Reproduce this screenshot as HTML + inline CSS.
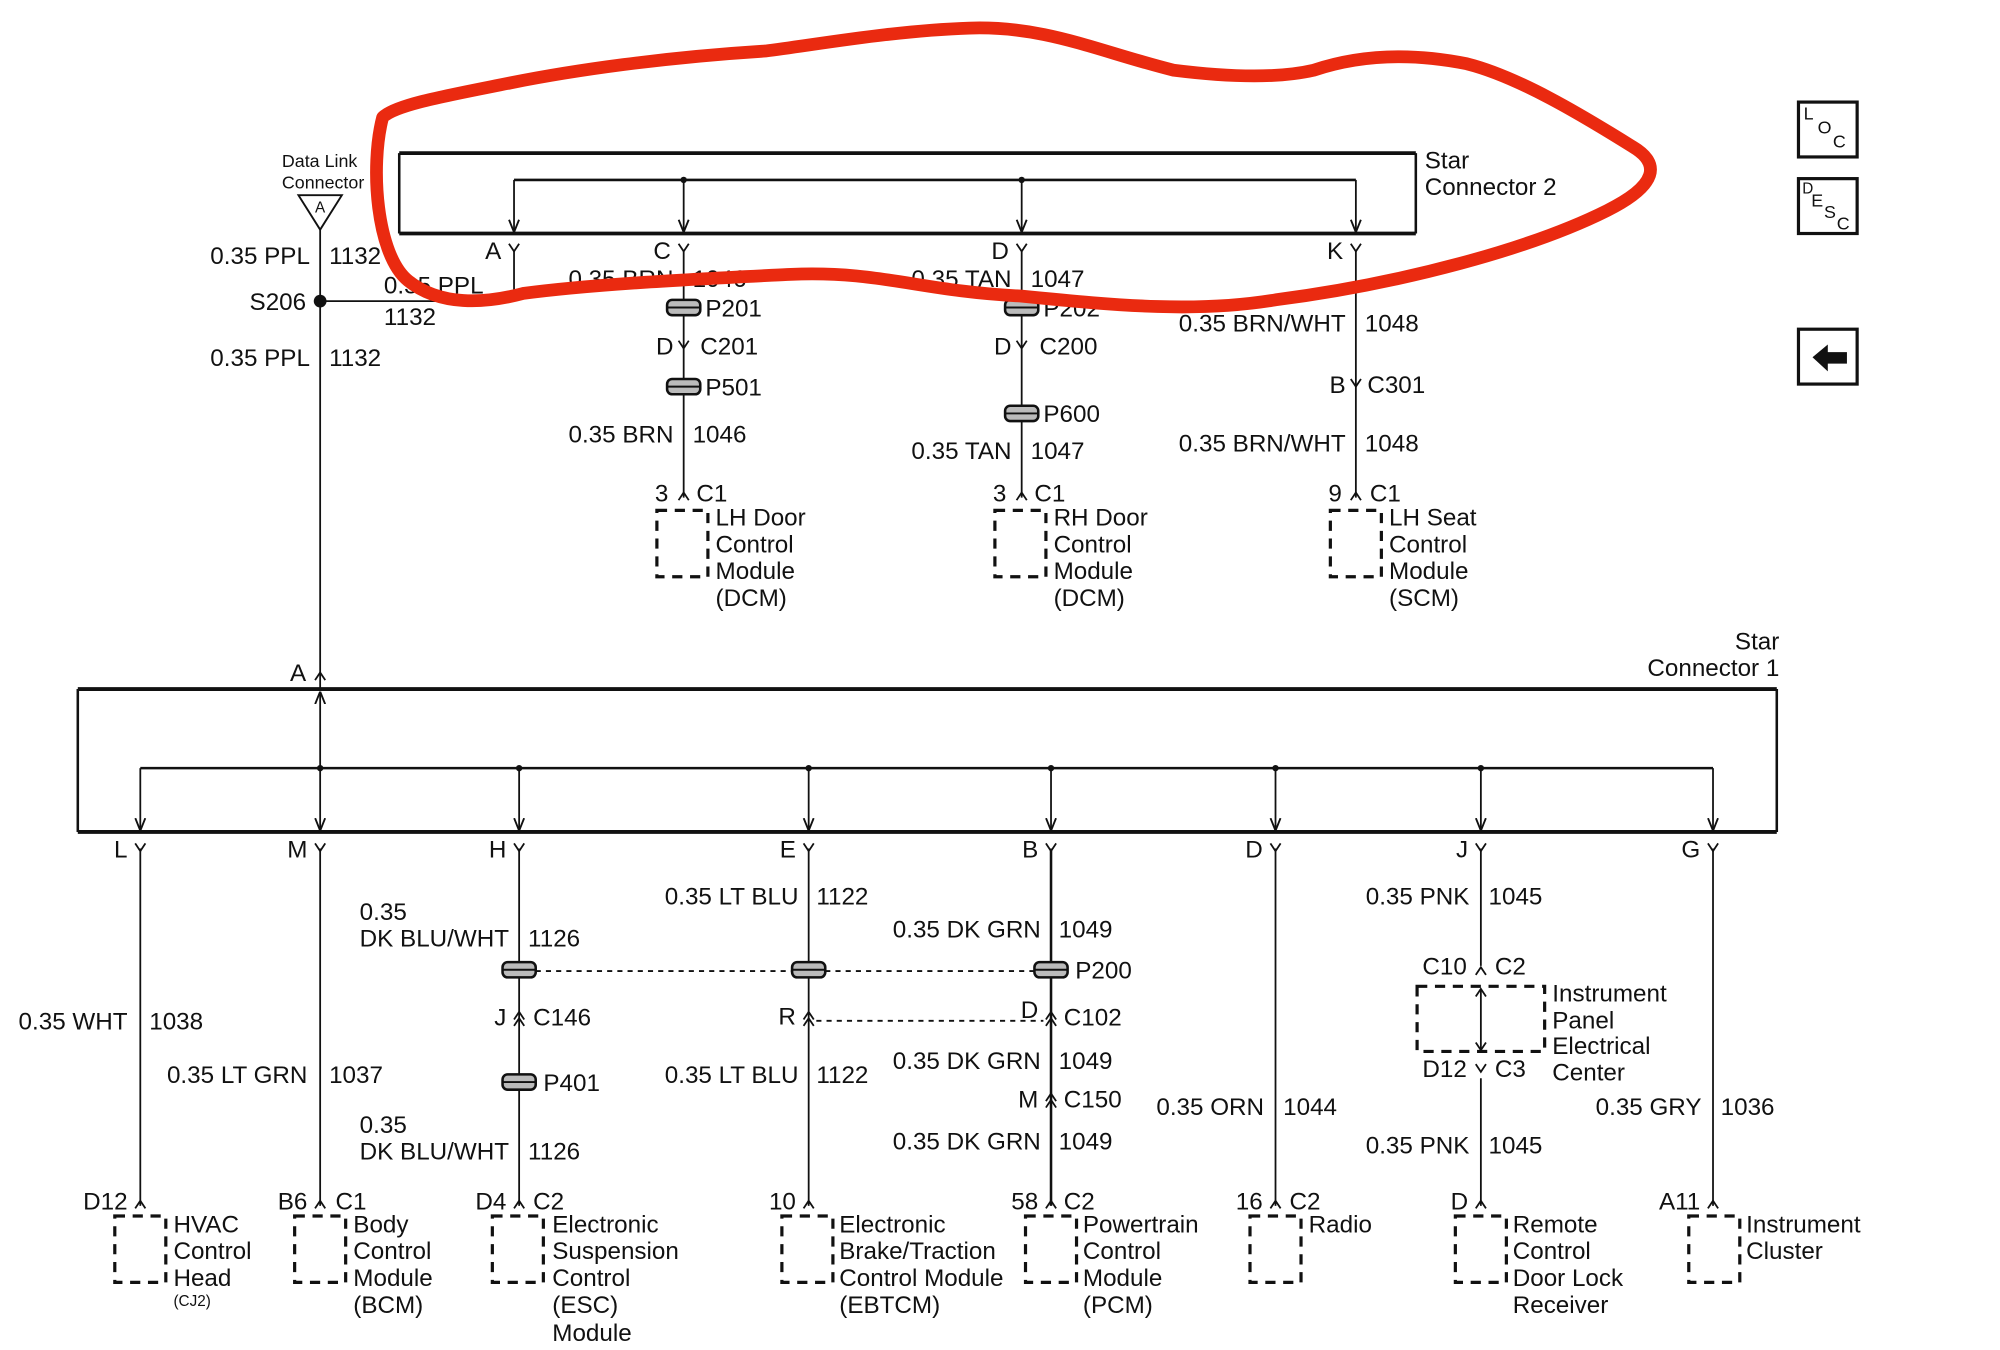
<!DOCTYPE html>
<html><head><meta charset="utf-8"><style>
html,body{margin:0;padding:0;background:#fff;}
svg{display:block;}
text{font-family:"Liberation Sans",sans-serif;font-size:19px;fill:#111;dominant-baseline:central;}
.s{font-size:14px;}
.xs{font-size:12px;}
.e{text-anchor:end;}
</style></head><body>
<svg width="2000" height="1350" viewBox="0 0 1568 1058" preserveAspectRatio="none" xmlns="http://www.w3.org/2000/svg">
<defs>
<marker id="ar" viewBox="0 0 10 10" refX="10" refY="5" markerWidth="7" markerHeight="7" orient="auto"><path d="M0,1 L10,5 L0,9" fill="none" stroke="#111" stroke-width="1.5"/></marker>
<g id="Y"><path d="M-4,-6 L0,0 L4,-6" fill="none" stroke="#111" stroke-width="1.4"/></g>
<g id="U"><path d="M-4,5 L0,-1 L4,5" fill="none" stroke="#111" stroke-width="1.4"/></g>
<g id="UU"><path d="M-4,2 L0,-4 L4,2 M-4,7 L0,1 L4,7" fill="none" stroke="#111" stroke-width="1.4"/></g>
<g id="P"><rect x="-13" y="-6" width="26" height="12" rx="4" fill="#bbb" stroke="#111" stroke-width="2"/><line x1="-13" y1="0" x2="13" y2="0" stroke="#111" stroke-width="1.5"/></g>
<g id="B"><rect x="0" y="0" width="40" height="52" fill="none" stroke="#111" stroke-width="2.5" stroke-dasharray="8,6"/></g>
</defs>
<g stroke="#111" fill="none">
<line x1="313" y1="120" x2="1110" y2="120" stroke-width="3"/>
<line x1="313" y1="183" x2="1110" y2="183" stroke-width="3"/>
<line x1="313" y1="120" x2="313" y2="183" stroke-width="2"/>
<line x1="1110" y1="120" x2="1110" y2="183" stroke-width="2"/>
<line x1="403" y1="141" x2="1063" y2="141" stroke-width="2"/>
<line x1="403" y1="141" x2="403" y2="182" stroke-width="1.4" marker-end="url(#ar)"/>
<line x1="536" y1="141" x2="536" y2="182" stroke-width="1.4" marker-end="url(#ar)"/>
<line x1="801" y1="141" x2="801" y2="182" stroke-width="1.4" marker-end="url(#ar)"/>
<line x1="1063" y1="141" x2="1063" y2="182" stroke-width="1.4" marker-end="url(#ar)"/>
<line x1="403" y1="196" x2="403" y2="236" stroke-width="1.4"/>
<line x1="251" y1="180" x2="251" y2="540" stroke-width="1.4"/>
<line x1="251" y1="236" x2="403" y2="236" stroke-width="1.4"/>
<line x1="536" y1="196" x2="536" y2="390" stroke-width="1.4"/>
<line x1="801" y1="196" x2="801" y2="390" stroke-width="1.4"/>
<line x1="1063" y1="196" x2="1063" y2="390" stroke-width="1.4"/>
<path d="M234,153 L268,153 L251,180 Z" stroke-width="1.5"/>
<line x1="61" y1="540" x2="1393" y2="540" stroke-width="3"/>
<line x1="61" y1="652" x2="1393" y2="652" stroke-width="3"/>
<line x1="61" y1="540" x2="61" y2="652" stroke-width="2"/>
<line x1="1393" y1="540" x2="1393" y2="652" stroke-width="2"/>
<line x1="251" y1="602" x2="251" y2="542" stroke-width="1.4" marker-end="url(#ar)"/>
<line x1="110" y1="602" x2="1343" y2="602" stroke-width="2"/>
<line x1="110" y1="602" x2="110" y2="651" stroke-width="1.4" marker-end="url(#ar)"/>
<line x1="251" y1="602" x2="251" y2="651" stroke-width="1.4" marker-end="url(#ar)"/>
<line x1="407" y1="602" x2="407" y2="651" stroke-width="1.4" marker-end="url(#ar)"/>
<line x1="634" y1="602" x2="634" y2="651" stroke-width="1.4" marker-end="url(#ar)"/>
<line x1="824" y1="602" x2="824" y2="651" stroke-width="1.4" marker-end="url(#ar)"/>
<line x1="1000" y1="602" x2="1000" y2="651" stroke-width="1.4" marker-end="url(#ar)"/>
<line x1="1161" y1="602" x2="1161" y2="651" stroke-width="1.4" marker-end="url(#ar)"/>
<line x1="1343" y1="602" x2="1343" y2="651" stroke-width="1.4" marker-end="url(#ar)"/>
<line x1="110" y1="665" x2="110" y2="945" stroke-width="1.4"/>
<line x1="251" y1="665" x2="251" y2="945" stroke-width="1.4"/>
<line x1="407" y1="665" x2="407" y2="945" stroke-width="1.4"/>
<line x1="634" y1="665" x2="634" y2="945" stroke-width="1.4"/>
<line x1="824" y1="665" x2="824" y2="945" stroke-width="2"/>
<line x1="1000" y1="665" x2="1000" y2="945" stroke-width="1.4"/>
<line x1="1161" y1="665" x2="1161" y2="757" stroke-width="1.4"/>
<line x1="1161" y1="845" x2="1161" y2="945" stroke-width="1.4"/>
<line x1="1161" y1="776" x2="1161" y2="822" stroke-width="1.4"/>
<path d="M1157,781 L1161,775 L1165,781 M1157,817 L1161,823 L1165,817" stroke-width="1.4"/>
<line x1="1343" y1="665" x2="1343" y2="945" stroke-width="1.4"/>
<line x1="420" y1="761" x2="621" y2="761" stroke-width="1.5" stroke-dasharray="4,4"/>
<line x1="647" y1="761" x2="811" y2="761" stroke-width="1.5" stroke-dasharray="4,4"/>
<line x1="640" y1="800" x2="818" y2="800" stroke-width="1.5" stroke-dasharray="4,4"/>
<rect x="1111" y="773" width="100" height="51" stroke-width="2.5" stroke-dasharray="8,6"/>
<rect x="1410" y="80" width="46" height="43" stroke-width="2.5"/>
<rect x="1410" y="140" width="46" height="43" stroke-width="2.5"/>
<rect x="1410" y="258" width="46" height="43" stroke-width="2.5"/>
</g>
<path d="M1421,280 L1433,270 L1433,276 L1448,276 L1448,285 L1433,285 L1433,291 Z" fill="#111"/>
<text x="1414" y="89" class="s">L</text><text x="1425" y="100" class="s">O</text><text x="1437" y="111" class="s">C</text>
<text x="1413" y="148" class="xs">D</text><text x="1420" y="157" class="s">E</text><text x="1430" y="166" class="s">S</text><text x="1440" y="175" class="s">C</text>
<g fill="#111">
<circle cx="251" cy="236" r="5"/>
<circle cx="536" cy="141" r="2.5"/><circle cx="801" cy="141" r="2.5"/>
<circle cx="251" cy="602" r="2.5"/><circle cx="407" cy="602" r="2.5"/><circle cx="634" cy="602" r="2.5"/><circle cx="824" cy="602" r="2.5"/><circle cx="1000" cy="602" r="2.5"/><circle cx="1161" cy="602" r="2.5"/>
</g>
<use href="#Y" x="403" y="197"/><use href="#Y" x="536" y="197"/><use href="#Y" x="801" y="197"/><use href="#Y" x="1063" y="197"/>
<use href="#Y" x="536" y="273"/><use href="#Y" x="801" y="273"/><use href="#Y" x="1063" y="303"/>
<use href="#U" x="536" y="387"/><use href="#U" x="801" y="387"/><use href="#U" x="1063" y="387"/>
<use href="#U" x="251" y="528"/>
<use href="#Y" x="110" y="667"/><use href="#Y" x="251" y="667"/><use href="#Y" x="407" y="667"/><use href="#Y" x="634" y="667"/><use href="#Y" x="824" y="667"/><use href="#Y" x="1000" y="667"/><use href="#Y" x="1161" y="667"/><use href="#Y" x="1343" y="667"/>
<use href="#UU" x="407" y="797"/><use href="#UU" x="634" y="797"/><use href="#UU" x="824" y="797"/><use href="#UU" x="824" y="861"/>
<use href="#U" x="1161" y="759"/><use href="#Y" x="1161" y="840"/>
<use href="#U" x="110" y="942"/><use href="#U" x="251" y="942"/><use href="#U" x="407" y="942"/><use href="#U" x="634" y="942"/><use href="#U" x="824" y="942"/><use href="#U" x="1000" y="942"/><use href="#U" x="1161" y="942"/><use href="#U" x="1343" y="942"/>
<use href="#P" x="536" y="241"/><use href="#P" x="536" y="303"/><use href="#P" x="801" y="241"/><use href="#P" x="801" y="324"/>
<use href="#P" x="407" y="760"/><use href="#P" x="634" y="760"/><use href="#P" x="824" y="760"/><use href="#P" x="407" y="848"/>
<use href="#B" x="515" y="400"/><use href="#B" x="780" y="400"/><use href="#B" x="1043" y="400"/>
<use href="#B" x="90" y="953"/><use href="#B" x="231" y="953"/><use href="#B" x="386" y="953"/><use href="#B" x="613" y="953"/><use href="#B" x="804" y="953"/><use href="#B" x="980" y="953"/><use href="#B" x="1141" y="953"/><use href="#B" x="1324" y="953"/>
<text x="221" y="126" class="s">Data Link</text><text x="221" y="143" class="s">Connector</text>
<text x="251" y="163" class="xs" text-anchor="middle">A</text>
<text x="1117" y="126">Star</text><text x="1117" y="147">Connector  2</text>
<text x="393" y="197" class="e">A</text><text x="526" y="197" class="e">C</text><text x="791" y="197" class="e">D</text><text x="1053" y="197" class="e">K</text>
<text x="243" y="201" class="e">0.35 PPL</text><text x="258" y="201">1132</text>
<text x="240" y="237" class="e">S206</text>
<text x="301" y="224">0.35 PPL</text><text x="301" y="249">1132</text>
<text x="243" y="281" class="e">0.35 PPL</text><text x="258" y="281">1132</text>
<text x="528" y="219" class="e">0.35 BRN</text><text x="543" y="219">1046</text>
<text x="793" y="219" class="e">0.35 TAN</text><text x="808" y="219">1047</text>
<text x="553" y="242">P201</text><text x="818" y="242">P202</text>
<text x="528" y="272" class="e">D</text><text x="549" y="272">C201</text>
<text x="793" y="272" class="e">D</text><text x="815" y="272">C200</text>
<text x="553" y="304">P501</text><text x="818" y="325">P600</text>
<text x="528" y="341" class="e">0.35 BRN</text><text x="543" y="341">1046</text>
<text x="793" y="354" class="e">0.35 TAN</text><text x="808" y="354">1047</text>
<text x="1055" y="254" class="e">0.35 BRN/WHT</text><text x="1070" y="254">1048</text>
<text x="1055" y="302" class="e">B</text><text x="1072" y="302">C301</text>
<text x="1055" y="348" class="e">0.35 BRN/WHT</text><text x="1070" y="348">1048</text>
<text x="524" y="387" class="e">3</text><text x="546" y="387">C1</text>
<text x="789" y="387" class="e">3</text><text x="811" y="387">C1</text>
<text x="1052" y="387" class="e">9</text><text x="1074" y="387">C1</text>
<text x="561" y="406">LH Door</text><text x="561" y="427">Control</text><text x="561" y="448">Module</text><text x="561" y="469">(DCM)</text>
<text x="826" y="406">RH Door</text><text x="826" y="427">Control</text><text x="826" y="448">Module</text><text x="826" y="469">(DCM)</text>
<text x="1089" y="406">LH Seat</text><text x="1089" y="427">Control</text><text x="1089" y="448">Module</text><text x="1089" y="469">(SCM)</text>
<text x="1395" y="503" class="e">Star</text><text x="1395" y="524" class="e">Connector 1</text>
<text x="240" y="528" class="e">A</text>
<text x="100" y="666" class="e">L</text><text x="241" y="666" class="e">M</text><text x="397" y="666" class="e">H</text><text x="624" y="666" class="e">E</text><text x="814" y="666" class="e">B</text><text x="990" y="666" class="e">D</text><text x="1151" y="666" class="e">J</text><text x="1333" y="666" class="e">G</text>
<text x="100" y="801" class="e">0.35 WHT</text><text x="117" y="801">1038</text>
<text x="241" y="843" class="e">0.35 LT GRN</text><text x="258" y="843">1037</text>
<text x="282" y="715">0.35</text><text x="282" y="736">DK BLU/WHT</text><text x="414" y="736">1126</text>
<text x="397" y="798" class="e">J</text><text x="418" y="798">C146</text>
<text x="426" y="849">P401</text>
<text x="282" y="882">0.35</text><text x="282" y="903">DK BLU/WHT</text><text x="414" y="903">1126</text>
<text x="626" y="703" class="e">0.35 LT BLU</text><text x="640" y="703">1122</text>
<text x="624" y="797" class="e">R</text>
<text x="626" y="843" class="e">0.35 LT BLU</text><text x="640" y="843">1122</text>
<text x="816" y="729" class="e">0.35 DK GRN</text><text x="830" y="729">1049</text>
<text x="843" y="761">P200</text>
<text x="814" y="792" class="e">D</text><text x="834" y="798">C102</text>
<text x="816" y="832" class="e">0.35 DK GRN</text><text x="830" y="832">1049</text>
<text x="814" y="862" class="e">M</text><text x="834" y="862">C150</text>
<text x="816" y="895" class="e">0.35 DK GRN</text><text x="830" y="895">1049</text>
<text x="991" y="868" class="e">0.35 ORN</text><text x="1006" y="868">1044</text>
<text x="1152" y="703" class="e">0.35 PNK</text><text x="1167" y="703">1045</text>
<text x="1150" y="758" class="e">C10</text><text x="1172" y="758">C2</text>
<text x="1150" y="838" class="e">D12</text><text x="1172" y="838">C3</text>
<text x="1217" y="779">Instrument</text><text x="1217" y="800">Panel</text><text x="1217" y="820">Electrical</text><text x="1217" y="841">Center</text>
<text x="1152" y="898" class="e">0.35 PNK</text><text x="1167" y="898">1045</text>
<text x="1334" y="868" class="e">0.35 GRY</text><text x="1349" y="868">1036</text>
<text x="100" y="942" class="e">D12</text>
<text x="241" y="942" class="e">B6</text><text x="263" y="942">C1</text>
<text x="397" y="942" class="e">D4</text><text x="418" y="942">C2</text>
<text x="624" y="942" class="e">10</text>
<text x="814" y="942" class="e">58</text><text x="834" y="942">C2</text>
<text x="990" y="942" class="e">16</text><text x="1011" y="942">C2</text>
<text x="1151" y="942" class="e">D</text>
<text x="1333" y="942" class="e">A11</text>
<text x="136" y="960">HVAC</text><text x="136" y="981">Control</text><text x="136" y="1002">Head</text><text x="136" y="1020" class="xs">(CJ2)</text>
<text x="277" y="960">Body</text><text x="277" y="981">Control</text><text x="277" y="1002">Module</text><text x="277" y="1023">(BCM)</text>
<text x="433" y="960">Electronic</text><text x="433" y="981">Suspension</text><text x="433" y="1002">Control</text><text x="433" y="1023">(ESC)</text><text x="433" y="1045">Module</text>
<text x="658" y="960">Electronic</text><text x="658" y="981">Brake/Traction</text><text x="658" y="1002">Control Module</text><text x="658" y="1023">(EBTCM)</text>
<text x="849" y="960">Powertrain</text><text x="849" y="981">Control</text><text x="849" y="1002">Module</text><text x="849" y="1023">(PCM)</text>
<text x="1026" y="960">Radio</text>
<text x="1186" y="960">Remote</text><text x="1186" y="981">Control</text><text x="1186" y="1002">Door Lock</text><text x="1186" y="1023">Receiver</text>
<text x="1369" y="960">Instrument</text><text x="1369" y="981">Cluster</text>
<path d="M300,92 C290,130 295,200 320,220 C345,240 380,238 410,230 C470,222 560,218 620,215 C690,212 720,228 800,232 C880,240 940,245 1000,235 C1100,222 1200,195 1260,165 C1300,145 1302,128 1280,115 C1240,90 1190,60 1150,50 C1100,40 1060,45 1030,55 C1000,62 960,60 920,55 C860,40 820,20 760,22 C700,24 640,35 600,40 C520,45 450,55 400,65 C350,75 310,82 300,92 Z" fill="none" stroke="#ea2a10" stroke-width="10" stroke-linejoin="round"/>
</svg>
</body></html>
